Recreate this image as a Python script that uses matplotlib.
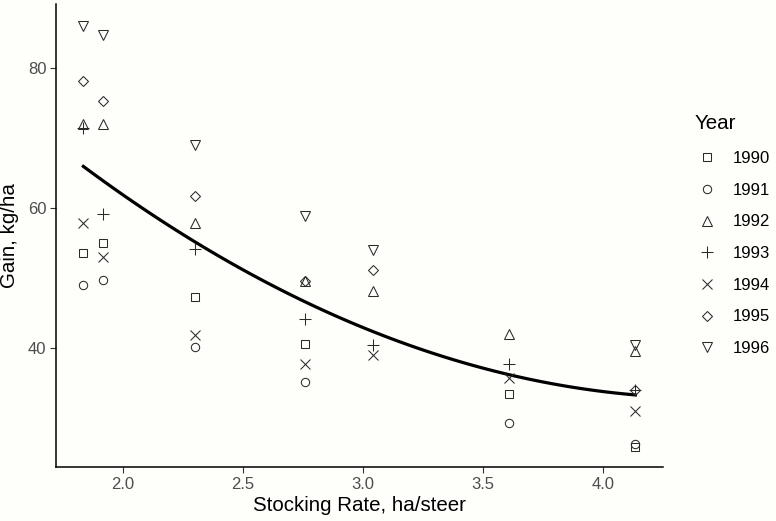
import numpy as np
import matplotlib
matplotlib.use("Agg")
import matplotlib.pyplot as plt

plt.rcParams['font.family'] = ['Liberation Sans', 'DejaVu Sans']

# stocking rate (ha/steer) for each paddock
rate = [1.835, 1.917, 2.30, 2.76, 3.04, 3.61, 4.135]

years = ['1990', '1991', '1992', '1993', '1994', '1995', '1996']
nan = np.nan
gain_1990 = [53.6, 55.0, 47.3, 40.6, nan, 33.4, 25.9]
gain_1991 = [49.0, 49.7, 40.1, 35.1, nan, 29.3, 26.3]
gain_1992 = [71.9, 71.9, 57.9, 49.6, 48.1, 42.0, 39.6]
gain_1993 = [71.4, 59.1, 54.1, 44.1, 40.4, 37.7, 34.0]
gain_1994 = [57.9, 53.0, 41.9, 37.7, 39.0, 35.7, 31.0]
gain_1995 = [78.1, 75.3, 61.7, 49.5, 51.1, nan, 34.0]
gain_1996 = [86.0, 84.7, 69.0, 58.9, 54.0, nan, 40.4]
gains = [gain_1990, gain_1991, gain_1992, gain_1993, gain_1994, gain_1995, gain_1996]

markers = ['s', 'o', '^', '+', 'x', 'D', 'v']
msizes = [6, 6, 7, 9, 7, 5.5, 7]
bg = '#fefefb'

fig = plt.figure(figsize=(7.76, 5.21), dpi=100, facecolor=bg)
ax = fig.add_axes([56/776, 1 - 467/521, (663-56)/776, (467-4)/521], facecolor=bg)

allx, ally = [], []
for yr, g, m, ms in zip(years, gains, markers, msizes):
    g = np.array(g)
    ax.plot(rate, g, linestyle='none', marker=m, markersize=ms,
            markerfacecolor='none', markeredgecolor='#2a2a2a',
            markeredgewidth=0.75, label=yr)
    ok = ~np.isnan(g)
    allx += list(np.array(rate)[ok])
    ally += list(g[ok])

# quadratic fit, like geom_smooth(method='lm', formula=y ~ poly(x, 2))
coef = np.polyfit(allx, ally, 2)
xs = np.linspace(min(rate), max(rate), 80)
ax.plot(xs, np.polyval(coef, xs), color='black', linewidth=2.3, zorder=1)

ax.set_xlim(1.721, 4.25)
ax.set_ylim(23.0, 89.1)
ax.set_xticks([2.0, 2.5, 3.0, 3.5, 4.0])
ax.set_yticks([40, 60, 80])
ax.tick_params(labelsize=12, labelcolor='#4d4d4d', color='#333333',
               length=4, width=0.8, pad=3)
for s in ['top', 'right']:
    ax.spines[s].set_visible(False)
for s in ['left', 'bottom']:
    ax.spines[s].set_linewidth(1.1)
    ax.spines[s].set_color('black')

ax.set_xlabel('Stocking Rate, ha/steer', fontsize=14.8, labelpad=3)
ax.set_ylabel('Gain, kg/ha', fontsize=14.8, labelpad=6)

leg = ax.legend(loc='upper left', bbox_to_anchor=(695/776, 1 - 114/521),
                bbox_transform=fig.transFigure, frameon=False, title='Year',
                fontsize=12, title_fontsize=14.8, labelspacing=1.0,
                handlelength=1.4, handletextpad=0.85, borderpad=0,
                borderaxespad=0, alignment='left')
leg._legend_box.sep = 13

fig.savefig('out.png', dpi=100, facecolor=bg)
